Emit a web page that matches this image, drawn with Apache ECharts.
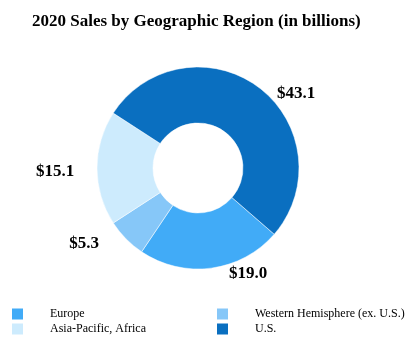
<!DOCTYPE html>
<html>
<head>
<meta charset="utf-8">
<script src="https://cdn.jsdelivr.net/npm/echarts@6/dist/echarts.min.js"></script>
<style>html,body{margin:0;padding:0;background:#fff}#c{width:409px;height:361px}</style>
</head>
<body>
<div id="c"></div>
<script>
const titleText = '2020 Sales by Geographic Region (in billions)';
const categories = ['Europe', 'Western Hemisphere (ex. U.S.)', 'Asia-Pacific, Africa', 'U.S.'];
const values = [19.0, 5.3, 15.1, 43.1];
const valueLabels = ['$19.0', '$5.3', '$15.1', '$43.1'];
const colors = ['#41ABF7', '#86C7F8', '#CDEBFD', '#0A6FC0'];
const labelPos = [[248, 274], [84, 244], [55, 172], [296, 94]];

const chart = echarts.init(document.getElementById('c'));
const serif = '"Liberation Serif", "Times New Roman", serif';
const legendBase = {
  orient: 'vertical', top: 308, padding: 0,
  itemWidth: 11, itemHeight: 11, itemGap: 3, icon: 'rect',
  itemStyle: { borderWidth: 0 },
  textStyle: { fontFamily: serif, fontSize: 12, color: '#000', padding: [0, 0, 0, 22] }
};
chart.setOption({
  animation: false,
  title: {
    text: titleText, left: 27, top: 8,
    textStyle: { fontFamily: serif, fontWeight: 'bold', fontSize: 17, color: '#000' }
  },
  legend: [
    Object.assign({}, legendBase, { data: [categories[0], categories[2]], left: 12 }),
    Object.assign({}, legendBase, { data: [categories[1], categories[3]], left: 217 })
  ],
  series: [{
    type: 'pie',
    center: [198, 168],
    radius: [45, 101],
    startAngle: 319,
    clockwise: true,
    avoidLabelOverlap: false,
    itemStyle: { borderColor: '#fff', borderWidth: 0.5 },
    emphasis: { disabled: true },
    label: {
      show: true, position: 'outside',
      formatter: p => valueLabels[p.dataIndex],
      fontFamily: serif, fontWeight: 'bold', fontSize: 17, color: '#000'
    },
    labelLine: { show: false },
    labelLayout: p => ({ x: labelPos[p.dataIndex][0], y: labelPos[p.dataIndex][1], align: 'center', verticalAlign: 'middle' }),
    data: categories.map((c, i) => ({ name: c, value: values[i], itemStyle: { color: colors[i] } }))
  }]
});
</script>
</body>
</html>
